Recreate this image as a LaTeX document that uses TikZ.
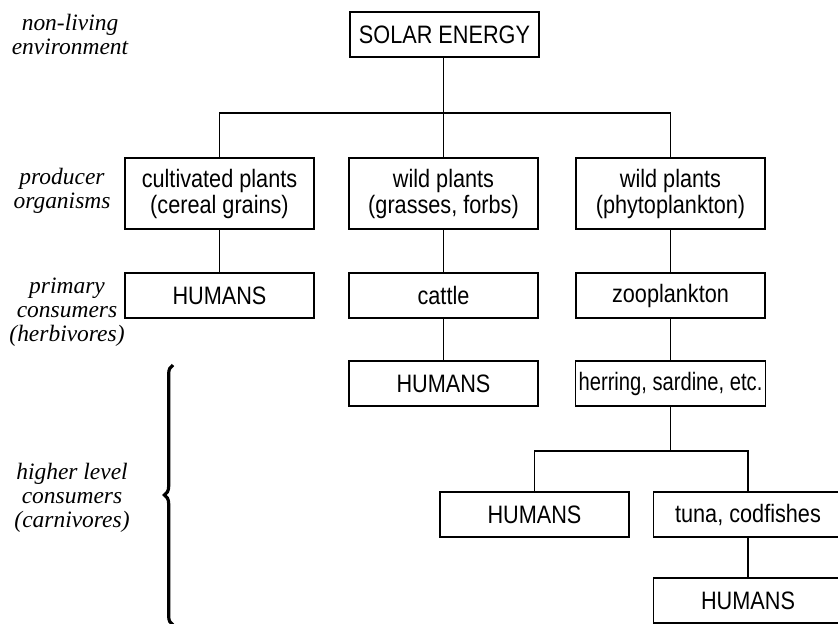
\documentclass[tikz,border=0pt]{standalone}
\usepackage{fontspec}
\setmainfont{Liberation Serif}
\setsansfont{Liberation Sans}[FakeStretch=0.86]
\usepackage{tikz}
\usetikzlibrary{positioning, calc, decorations.pathreplacing}

\begin{document}
\begin{tikzpicture}[
    x=0.75pt, y=-0.75pt,
    foodbox/.style={rectangle, draw, line width=0.8pt,
                    minimum width=141.75pt, minimum height=33.75pt,
                    inner sep=2pt, align=center,
                    font=\sffamily\fontsize{18.9}{19.5}\selectfont},
    tallbox/.style={foodbox, minimum height=53.25pt},
    levellabel/.style={align=center, inner sep=0pt,
                    font=\itshape\fontsize{17.6}{18}\selectfont},
    link/.style={line width=0.8pt},
  ]
    \useasboundingbox (0,0) rectangle (838,624);

    % levels on the left
    \node[levellabel] (NONLIV) at (70,34.5) {non-living\\environment};
    \node[levellabel] (PROD)   at (62,191)  {producer\\organisms};
    \node[levellabel] (PRIM)   at (67,312)  {primary\\consumers\\(herbivores)};
    \node[levellabel] (HIGH)   at (72,497.5) {higher level\\consumers\\(carnivores)};

    % brace for the higher levels
    \coordinate (BRTOP) at (173,365);
    \coordinate (BRBOT) at (173,625);
    \draw[decorate, decoration={brace, amplitude=6.5pt}, line width=2.4pt]
      (BRBOT) -- (BRTOP);

    % source
    \node[foodbox] (SOLAR) at (444.5,34.5) {SOLAR ENERGY};

    % producers
    \node[tallbox] (CULT)  at (219.5,193.5) {cultivated plants\\(cereal grains)};
    \node[tallbox] (WILD)  at (443.5,193.5) {wild plants\\(grasses, forbs)};
    \node[tallbox] (PHYTO) at (670.5,193.5) {wild plants\\(phytoplankton)};

    % primary consumers
    \node[foodbox] (HUM1)  at (219.5,295.5) {HUMANS};
    \node[foodbox] (CATTLE) at (443.5,295.5) {cattle};
    \node[foodbox] (ZOO)   at (670.5,295.5) {zooplankton};

    % higher consumers
    \node[foodbox] (HUM2)  at (443.5,383.5) {HUMANS};
    \node[foodbox] (HERRING) at (670.5,383.5)
      {\addfontfeature{FakeStretch=0.8}herring, sardine, etc.};
    \node[foodbox] (HUM3)  at (534.5,514.5) {HUMANS};
    \node[foodbox] (TUNA)  at (748,514.5) {tuna, codfishes};
    \node[foodbox] (HUM4)  at (748,600.5) {HUMANS};

    % connectors
    \coordinate (BARA) at (443.5,113);
    \coordinate (BARB) at (670.5,451);
    \draw[link] (SOLAR.south -| WILD.north) -- (WILD.north);
    \draw[link] (CULT.north) |- (BARA) -| (PHYTO.north);
    \draw[link] (CULT) -- (HUM1);
    \draw[link] (WILD) -- (CATTLE);
    \draw[link] (CATTLE) -- (HUM2);
    \draw[link] (PHYTO) -- (ZOO);
    \draw[link] (ZOO) -- (HERRING);
    \draw[link] (HERRING.south) -- (BARB);
    \draw[link] (HUM3.north) |- (BARB) -| (TUNA.north);
    \draw[link] (TUNA) -- (HUM4);
  \end{tikzpicture}
\end{document}
